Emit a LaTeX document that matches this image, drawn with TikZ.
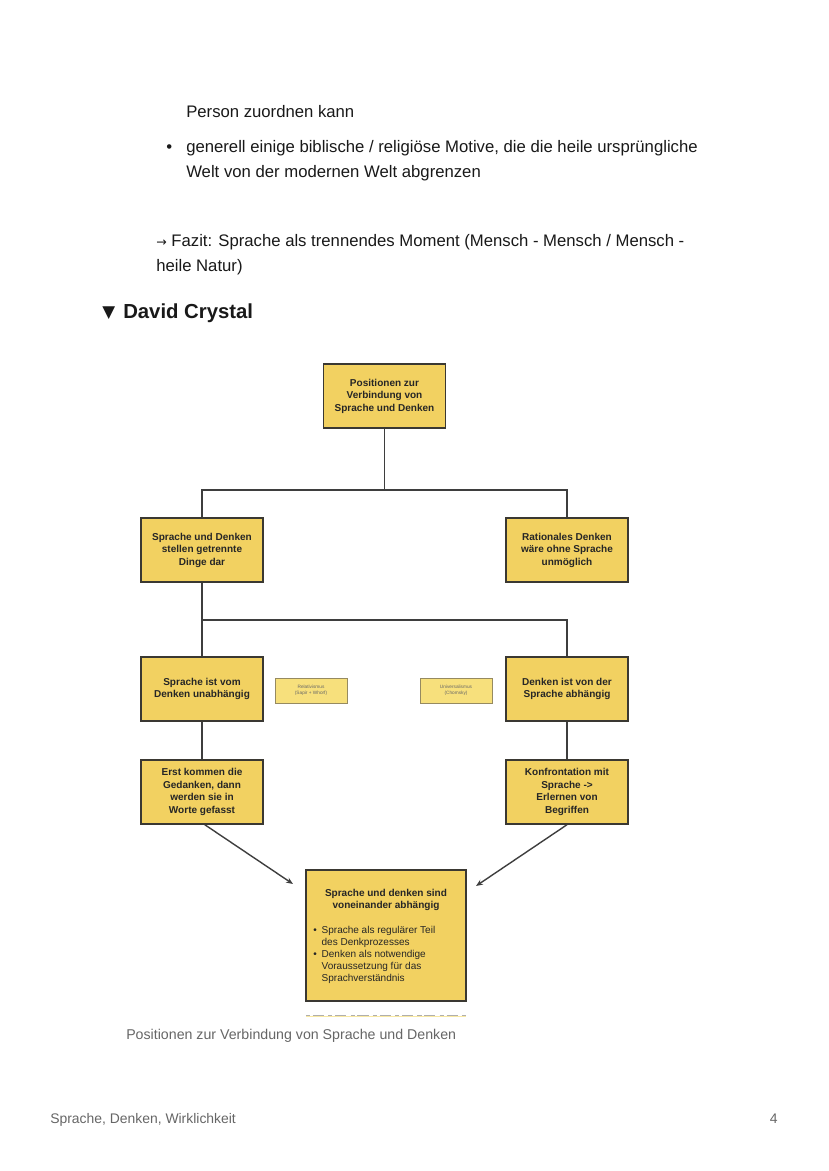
\documentclass[tikz,border=0pt]{standalone}
\usepackage{fontspec}
\setmainfont{Liberation Sans}
\newfontfamily\symfont{DejaVu Sans}
\usetikzlibrary{arrows.meta}
\definecolor{boxyellow}{RGB}{242,209,97}
\definecolor{noteyellow}{RGB}{247,224,124}
\definecolor{boxedge}{RGB}{58,56,50}
\definecolor{noteedge}{RGB}{150,138,96}
\definecolor{linegray}{RGB}{62,62,62}
\definecolor{pagegray}{RGB}{102,102,102}

\begin{document}
\begin{tikzpicture}[x=0.7186pt,y=-0.7186pt,
  txt/.style={anchor=base west,inner sep=0,font=\fontsize{12}{14}\selectfont,text=black!90},
  pbox/.style={draw=boxedge,fill=boxyellow,line width=1pt,minimum width=87.7pt,minimum height=46pt,
    align=center,inner sep=1pt,text=black!85,font=\fontsize{7.2}{9}\selectfont\bfseries},
  note/.style={draw=noteedge,fill=noteyellow,line width=0.5pt,minimum width=51.7pt,minimum height=18pt,
    align=center,inner sep=0.5pt,text=black!60,font=\fontsize{3.4}{4}\selectfont},
  conn/.style={draw=linegray,line width=1pt},
  arr/.style={conn,-{Stealth[length=5pt,width=4pt]}}]
\useasboundingbox[fill=white] (0,0) rectangle (828,1171);

% text above the chart
\node[txt] (t1) at (186,118) {Person zuordnen kann};
\node[txt] (b1) at (166,153) {•};
\node[txt] (t2) at (186,153) {generell einige biblische / religiöse Motive, die die heile ursprüngliche};
\node[txt] (t3) at (186,178) {Welt von der modernen Welt abgrenzen};
\node[txt] (t4) at (156,247) {{\symfont\fontsize{9}{10}\selectfont →} Fazit: Sprache als trennendes Moment (Mensch - Mensch / Mensch -};
\node[txt] (t5) at (156,272) {heile Natur)};
\node[txt,font=\symfont\fontsize{12}{14}\selectfont] (tri) at (102,318) {▼};
\node[txt,font=\fontsize{14.6}{16}\selectfont\bfseries] (head) at (123,319) {David Crystal};

% chart
\node[pbox] (top) at (384.5,396) {Positionen zur\\Verbindung von\\Sprache und Denken};
\node[pbox] (l1) at (202,550) {Sprache und Denken\\stellen getrennte\\Dinge dar};
\node[pbox] (r1) at (567,550) {Rationales Denken\\wäre ohne Sprache\\unmöglich};
\node[pbox] (l2) at (202,689) {Sprache ist vom\\Denken unabhängig};
\node[pbox] (r2) at (567,689) {Denken ist von der\\Sprache abhängig};
\node[note] (rel) at (311,690.5) {Relativismus\\(Sapir + Whorf)};
\node[note] (uni) at (456,690.5) {Universalismus\\(Chomsky)};
\node[pbox] (l3) at (202,792) {Erst kommen die\\Gedanken, dann\\werden sie in\\Worte gefasst};
\node[pbox] (r3) at (567,792) {Konfrontation mit\\Sprache ->\\Erlernen von\\Begriffen};
\node[pbox,minimum width=115pt,minimum height=94pt] (res) at (386,935.5) {};
\node[inner sep=0,align=center,text=black!85,font=\fontsize{7.2}{9}\selectfont\bfseries] (restitle) at (386,900)
  {Sprache und denken sind\\voneinander abhängig};
\node[anchor=north west,inner sep=0,text=black!85,font=\fontsize{7.2}{8.6}\selectfont] (reslist) at (313,925)
  {\begin{tabular}{@{}l@{\hspace{3.5pt}}l@{}}
   • & Sprache als regulärer Teil\\
     & des Denkprozesses\\
   • & Denken als notwendige\\
     & Voraussetzung für das\\
     & Sprachverständnis
   \end{tabular}};

\coordinate (j1) at (384.5,490);
\coordinate (j2) at (202,620);
\coordinate (a1) at (293,884);
\coordinate (a2) at (476,886);
\draw[conn] (top.south) -- (j1);
\draw[conn] (l1.north) |- (j1) -| (r1.north);
\draw[conn] (l1.south) -- (j2) -- (l2.north);
\draw[conn] (j2) -| (r2.north);
\draw[conn] (l2.south) -- (l3.north);
\draw[conn] (r2.south) -- (r3.north);
\draw[arr] ([xshift=2pt]l3.south) -- (a1);
\draw[arr] (r3.south) -- (a2);

% cut edge of the next picture
\draw[noteyellow!70,line width=0.6pt] (306,1016) -- (466,1016);
\draw[boxedge!40,line width=0.3pt,dash pattern=on 3pt off 2pt on 8pt off 3pt] (306,1015.5) -- (466,1015.5);

% caption and footer
\node[txt,font=\fontsize{10.2}{12}\selectfont,text=pagegray] (cap) at (126,1039) {Positionen zur Verbindung von Sprache und Denken};
\node[txt,font=\fontsize{10}{12}\selectfont,text=pagegray] (foot) at (50,1123) {Sprache, Denken, Wirklichkeit};
\node[txt,anchor=base east,font=\fontsize{10}{12}\selectfont,text=pagegray] (page) at (778,1123) {4};
\end{tikzpicture}
\end{document}
